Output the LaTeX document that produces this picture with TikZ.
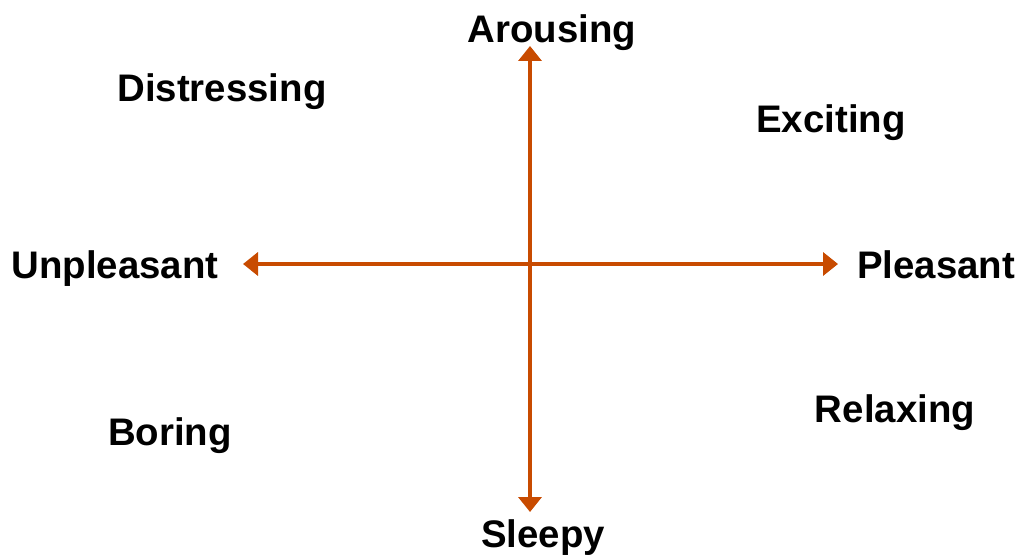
\documentclass[tikz,border=0pt]{standalone}
\usepackage{fontspec}
\setmainfont{Liberation Sans}
\usetikzlibrary{arrows.meta}
\definecolor{axiscol}{RGB}{200,75,0}
\begin{document}
\begin{tikzpicture}[x=0.5pt,y=-0.5pt,
  lbl/.style={anchor=base,inner sep=0pt,font=\fontsize{19.2pt}{22pt}\selectfont\bfseries,text=black},
  axis/.style={draw=axiscol,line width=1.75pt,-{Triangle[length=7.5pt,width=11.5pt]}}]
\useasboundingbox[fill=white] (0,0) rectangle (1021,556);
\coordinate (c) at (530,264);
\coordinate (top) at (530,46);
\coordinate (bot) at (530,512);
\coordinate (lft) at (243,264);
\coordinate (rgt) at (838,264);
\draw[axis] (c) -- (top);
\draw[axis] (c) -- (bot);
\draw[axis] (c) -- (lft);
\draw[axis] (c) -- (rgt);
\node[lbl] (arousing) at (552,43) {Arousing};
\node[lbl] (sleepy) at (543,547) {Sleepy};
\node[lbl] (unpleasant) at (115,278) {Unpleasant};
\node[lbl] (pleasant) at (936,278) {Pleasant};
\node[lbl] (distressing) at (222,102) {Distressing};
\node[lbl] (exciting) at (831,133) {Exciting};
\node[lbl] (boring) at (170,445) {Boring};
\node[lbl] (relaxing) at (895,422) {Relaxing};
\end{tikzpicture}
\end{document}
